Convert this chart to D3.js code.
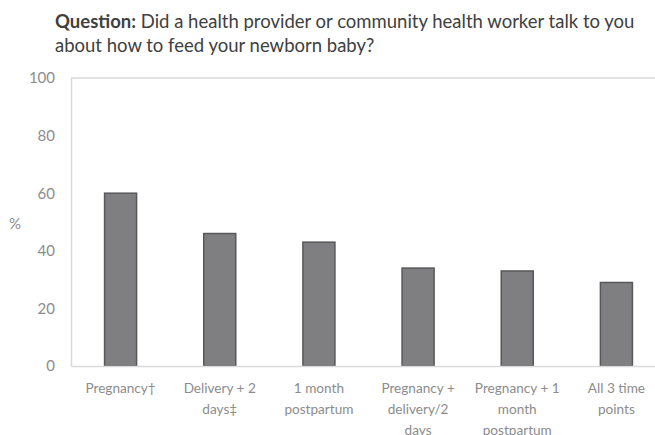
<!DOCTYPE html>
<html>
<head>
<meta charset="utf-8">
<script src="https://cdn.jsdelivr.net/npm/d3@7"></script>
<style>
  html, body { margin: 0; padding: 0; background: #fff; }
  svg { display: block; font-family: Lato, "Open Sans", sans-serif; }
</style>
</head>
<body>
<svg id="chart" width="655" height="435"></svg>
<script>
// Share of respondents counselled on newborn feeding, by time point
const categories = [
  "Pregnancy†",
  "Delivery + 2 days‡",
  "1 month postpartum",
  "Pregnancy + delivery/2 days",
  "Pregnancy + 1 month postpartum",
  "All 3 time points"
];
const categoryLines = [
  ["Pregnancy†"],
  ["Delivery + 2", "days‡"],
  ["1 month", "postpartum"],
  ["Pregnancy +", "delivery/2", "days"],
  ["Pregnancy + 1", "month", "postpartum"],
  ["All 3 time", "points"]
];
const values = [60, 46, 43, 34, 33, 29];
const yTicks = [0, 20, 40, 60, 80, 100];

const svg = d3.select("#chart");
const plot = { left: 71, right: 666, top: 78, bottom: 366 };

const x = d3.scaleBand()
  .domain(categories)
  .range([plot.left, plot.right])
  .paddingInner(0.677)
  .paddingOuter(0.3385);

const y = d3.scaleLinear()
  .domain([0, 100])
  .range([plot.bottom, plot.top]);

// Title
const titleSize = "18.5px";
const title = svg.append("text")
  .attr("x", 55)
  .attr("y", 28)
  .attr("fill", "#404040")
  .style("font-size", titleSize);
title.append("tspan").attr("font-weight", "bold").text("Question:");
title.append("tspan").text(" Did a health provider or community health worker talk to you");
svg.append("text")
  .attr("x", 55)
  .attr("y", 52)
  .attr("fill", "#404040")
  .style("font-size", titleSize)
  .text("about how to feed your newborn baby?");

// Plot frame: top, left and baseline rules
const frame = "#d9d9d9";
svg.append("line")
  .attr("x1", plot.left).attr("x2", plot.right)
  .attr("y1", y(100)).attr("y2", y(100))
  .attr("stroke", frame).attr("stroke-width", 1.5);

// Y axis
const yAxis = svg.append("g")
  .attr("transform", `translate(${plot.left},0)`)
  .call(d3.axisLeft(y).tickValues(yTicks).tickSize(0).tickPadding(16));
yAxis.select(".domain").attr("stroke", frame).attr("stroke-width", 1.5);
yAxis.selectAll("text")
  .attr("fill", "#8c8c8c")
  .style("font-size", "15px")
  .style("font-family", "Lato, 'Open Sans', sans-serif");

svg.append("text")
  .attr("x", 15)
  .attr("y", y(50))
  .attr("dy", "0.45em")
  .attr("text-anchor", "middle")
  .attr("fill", "#8c8c8c")
  .style("font-size", "15px")
  .text("%");

// Bars
svg.append("g")
  .selectAll("rect")
  .data(values)
  .join("rect")
  .attr("x", (d, i) => x(categories[i]))
  .attr("y", d => y(d))
  .attr("width", x.bandwidth())
  .attr("height", d => y(0) - y(d))
  .attr("fill", "#7f7f82")
  .attr("stroke", "#58585a")
  .attr("stroke-width", 1.5);

// X axis
const xAxis = svg.append("g")
  .attr("transform", `translate(0,${plot.bottom})`)
  .call(d3.axisBottom(x).tickSize(0).tickFormat(""));
xAxis.select(".domain").attr("stroke", frame).attr("stroke-width", 1.5);

xAxis.selectAll(".tick")
  .append("text")
  .attr("fill", "#8c8c8c")
  .attr("text-anchor", "middle")
  .style("font-size", "13.6px")
  .style("font-family", "Lato, 'Open Sans', sans-serif")
  .each(function(d) {
    const lines = categoryLines[categories.indexOf(d)];
    d3.select(this).selectAll("tspan")
      .data(lines)
      .join("tspan")
      .attr("x", 0)
      .attr("y", (l, j) => 27 + j * 21)
      .text(l => l);
  });
</script>
</body>
</html>
